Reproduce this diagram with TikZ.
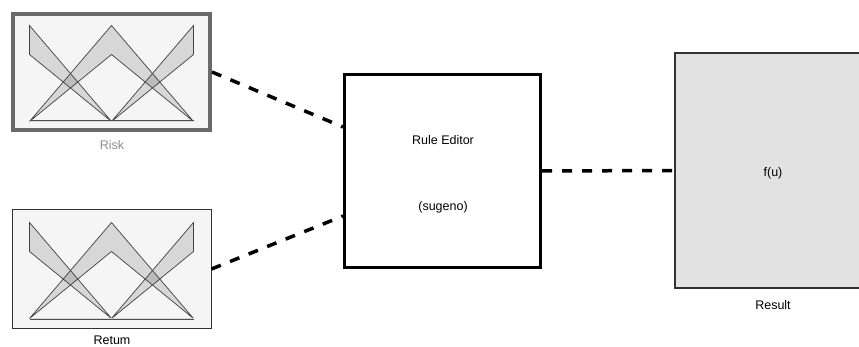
\documentclass[tikz,border=0pt]{standalone}
\usepackage{fontspec}
\setmainfont{Liberation Sans}
\begin{document}
\begin{tikzpicture}[x=1pt,y=-1pt,
  lbl/.style={font=\fontsize{12.5}{14}\selectfont, inner sep=0pt},
  mfbox/.style={rectangle, fill=boxfill, inner sep=0pt},
  link/.style={line width=3.5pt, dash pattern=on 10pt off 10pt, black},
  bandfill/.style={fill=black, fill opacity=0.12},
  bandline/.style={draw=black!75, line width=0.7pt, line join=miter},
  mfs/.pic={
    \fill[bandfill] (-82,-46.5) -- (0,49.5) -- (-82,-17.5) -- cycle;
    \fill[bandfill] (-82,49.5) -- (0,-46.5) -- (82,49.5) -- (0,-17.5) -- cycle;
    \fill[bandfill] (82,-46.5) -- (0,49.5) -- (82,-17.5) -- cycle;
    \draw[bandline] (-82,-46.5) -- (0,49.5) -- (-82,-17.5) -- cycle;
    \draw[bandline] (-82,49.5) -- (0,-46.5) -- (82,49.5) -- (0,-17.5) -- cycle;
    \draw[bandline] (82,-46.5) -- (0,49.5) -- (82,-17.5) -- cycle;
    \draw[line width=2pt, black!70] (-82,49.5) -- (82,49.5);
    \draw[line width=0.8pt, black!15] (-82,49.5) -- (82,49.5);
  }]
\definecolor{boxfill}{HTML}{F5F5F5}
\definecolor{riskborder}{HTML}{6A6A6A}
\definecolor{resultfill}{HTML}{E2E2E2}
\useasboundingbox (0,0) rectangle (859,347);
\clip (0,0) rectangle (859,347);

\node[mfbox, draw=riskborder, line width=4pt, minimum width=197pt, minimum height=116pt] (risk) at (111.5,72) {};
\pic at (risk.center) {mfs};
\node[lbl, text=black!45] (risklbl) at (112,145) {Risk};

\node[mfbox, draw=black!80, line width=1pt, minimum width=199pt, minimum height=118pt] (ret) at (111.5,269) {};
\pic at (ret.center) {mfs};
\node[lbl] (retlbl) at (112,340.5) {Retum};

\node[rectangle, draw=black, line width=3pt, fill=white, minimum width=196pt, minimum height=193pt, inner sep=0pt] (rule) at (442.5,171) {};
\node[lbl] (rt1) at (443,140) {Rule Editor};
\node[lbl] (rt2) at (443,207) {(sugeno)};

\node[rectangle, draw=black!80, line width=1.5pt, fill=resultfill, minimum width=196pt, minimum height=235pt, inner sep=0pt] (res) at (773,170.5) {};
\node[lbl] (fu) at (773,173) {f(u)};
\node[lbl] (reslbl) at (773,305) {Result};

\draw[link] (risk.east) -- ([yshift=44pt]rule.west);
\draw[link] (ret.east) -- ([yshift=-45pt]rule.west);
\draw[link] (rule.east) -- (res.west);
\end{tikzpicture}
\end{document}
